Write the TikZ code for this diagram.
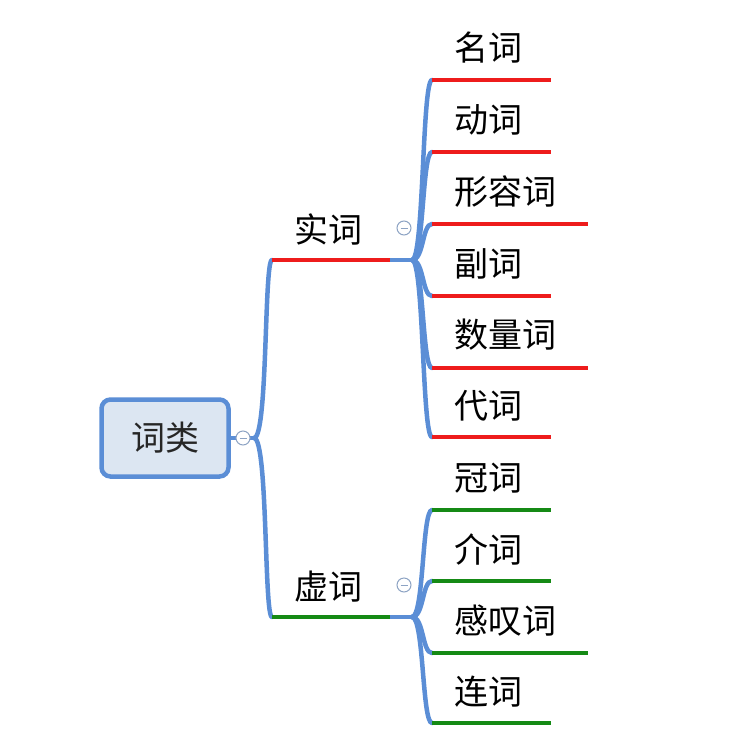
\documentclass[tikz,border=0pt]{standalone}
\usepackage{fontspec}
\setmainfont{Noto Sans CJK SC}
\definecolor{mmblue}{HTML}{5B8ED6}
\definecolor{mmfill}{HTML}{DCE6F2}
\definecolor{mmred}{HTML}{EE1C1C}
\definecolor{mmgreen}{HTML}{158A15}
\definecolor{mmgray}{HTML}{8DA3C4}
\begin{document}
\begin{tikzpicture}[x=1pt,y=-1pt,
  branch/.style={draw=mmblue,line width=4.5pt,line cap=round},
  redline/.style={draw=mmred,line width=4.5pt},
  greenline/.style={draw=mmgreen,line width=4.5pt},
  label/.style={font=\fontsize{34}{36}\selectfont,text=black,anchor=west,inner sep=0pt},
  rootbox/.style={draw=mmblue,fill=mmfill,line width=4.5pt,rounded corners=9pt,minimum width=127pt,minimum height=77pt,font=\fontsize{34}{36}\selectfont,text=black!85},
  toggle/.style={circle,draw=mmgray,fill=white,line width=1pt,minimum size=14pt,inner sep=0pt,
    path picture={\draw[mmgray,line width=1pt] ([xshift=-3.5pt]path picture bounding box.center) -- ([xshift=3.5pt]path picture bounding box.center);}}
]
\useasboundingbox (0,0) rectangle (750,750);

% root
\node[rootbox] (root) at (165,438) {词类};
\coordinate (rj) at (254,438);

% first level junctions
\coordinate (s1) at (272,260);
\coordinate (e1) at (390,260);
\coordinate (j1) at (412,260);
\coordinate (s2) at (272,617);
\coordinate (e2) at (390,617);
\coordinate (j2) at (412,617);

\draw[branch] (root.east) -- (rj);
\draw[branch] (rj) .. controls (268,438) and (264,260) .. (s1);
\draw[branch] (rj) .. controls (268,438) and (264,617) .. (s2);
\draw[branch] (e1) -- (j1);
\draw[branch] (e2) -- (j2);
\draw[redline] (s1) -- (e1);
\draw[greenline] (s2) -- (e2);
\node[label] (shi) at (294,229) {实词};
\node[label] (xu) at (294,587) {虚词};

% second level
\foreach \n/\y/\xe/\j in {a/80/551/j1, b/152/551/j1, c/224/588/j1, d/296/551/j1, e/368/588/j1, f/437/551/j1, g/510/551/j2, h/581/551/j2, i/653/588/j2, k/723/551/j2}{
  \coordinate (\n s) at (432,\y);
  \coordinate (\n e) at (\xe,\y);
  \draw[branch] (\j) .. controls ([xshift=12pt]\j) and (422,\y) .. (\n s);
}
\foreach \n/\t/\ly/\c in {a/名词/48/mmred, b/动词/120/mmred, c/形容词/192/mmred, d/副词/264/mmred, e/数量词/335/mmred, f/代词/406/mmred, g/冠词/478/mmgreen, h/介词/549/mmgreen, i/感叹词/621/mmgreen, k/连词/692/mmgreen}{
  \draw[draw=\c,line width=4.5pt] (\n s) -- (\n e);
  \node[label] (\n l) at (454,\ly) {\t};
}

% toggles
\node[toggle] (t0) at (243,438) {};
\node[toggle] (t1) at (404,228) {};
\node[toggle] (t2) at (404,585) {};
\end{tikzpicture}
\end{document}
